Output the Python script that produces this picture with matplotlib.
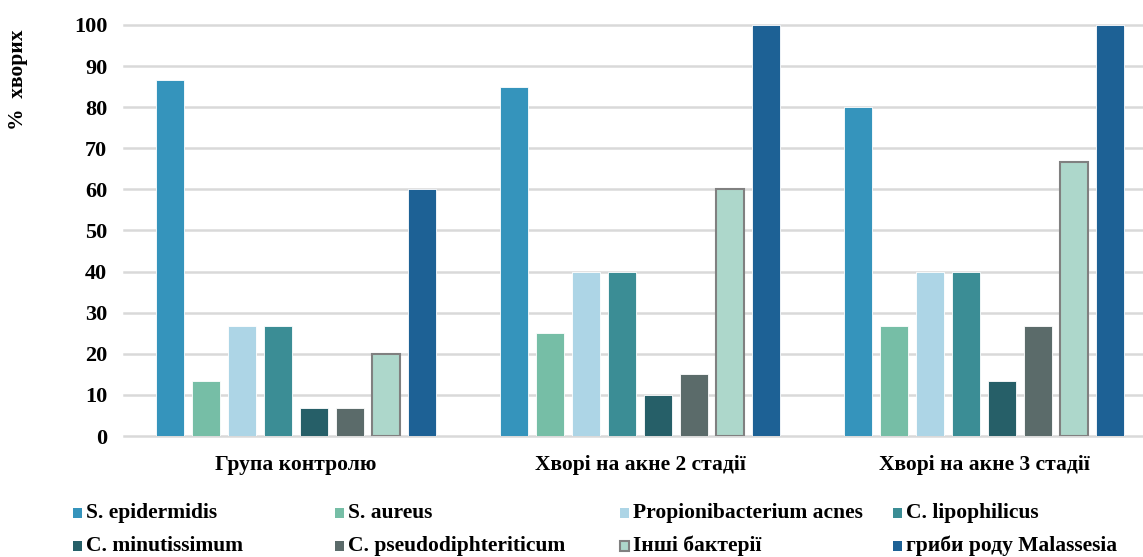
import numpy as np
import matplotlib
matplotlib.use('Agg')
from matplotlib import pyplot as plt
from matplotlib.patches import Rectangle

plt.rcParams['font.family'] = ['Liberation Serif', 'DejaVu Serif']
plt.rcParams['font.weight'] = 'bold'

# data
groups = ['Група контролю', 'Хворі на акне 2 стадії', 'Хворі на акне 3 стадії']
species = ['S. epidermidis', 'S. aureus', 'Propionibacterium acnes', 'C. lipophilicus',
           'C. minutissimum', 'C. pseudodiphteriticum', 'Інші бактерії', 'гриби роду Malassesia']
control = [86.7, 13.3, 26.7, 26.7, 6.7, 6.7, 20, 60]
stage2 = [85, 25, 40, 40, 10, 15, 60, 100]
stage3 = [80, 26.7, 40, 40, 13.3, 26.7, 66.7, 100]
colors = ['#3594BC', '#76BEA6', '#ADD5E6', '#3B8D95', '#265F68', '#5B6B6A', '#ADD7CB', '#1D6195']
edges = ['white'] * 6 + ['#808080', 'white']
yticks = np.arange(0, 101, 10)

W, H = 1143, 557
fig = plt.figure(figsize=(W / 100, H / 100), dpi=100)
ax = fig.add_axes([124 / W, (H - 436) / H, 1 - 124 / W, (436 - 25) / H])

vals = np.array([control, stage2, stage3])  # groups x species
x = np.arange(len(groups))
step = 36 / 344
bw = 28 / 344
for i in range(len(species)):
    off = (i - 3.5) * step
    lw = 1.5 if edges[i] != 'white' else 0.6
    ax.bar(x + off, vals[:, i], width=bw, color=colors[i], edgecolor=edges[i],
           linewidth=lw, zorder=3)

ax.set_xlim(-0.5, 2.5 - 13 / 344)
ax.set_ylim(0, 100)
ax.set_yticks(yticks)
ax.set_yticklabels([str(t) for t in yticks], fontsize=16, fontweight='bold')
ax.set_xticks([])
ax.tick_params(axis='y', length=0, pad=12)
ax.grid(axis='y', color='#D9D9D9', linewidth=1.8, zorder=0)
ax.set_axisbelow(True)
for s in ax.spines.values():
    s.set_visible(False)
for gl in ax.get_ygridlines():
    gl.set_clip_on(False)

for xi, g in zip(x, groups):
    ax.text(xi, -7, g, ha='center', va='center', fontsize=15.5, fontweight='bold')

fig.text(18 / W, 1 - 80 / H, '%  хворих', rotation=90, ha='center', va='center',
         fontsize=15.5, fontweight='bold')

# legend drawn by hand to match column placement
col_x = [73, 335, 620, 893]
row_y = [513, 546]
for i, name in enumerate(species):
    cx = col_x[i % 4]
    cy = row_y[i // 4]
    lw = 1.5 if edges[i] != 'white' else 0
    fig.patches.append(Rectangle((cx / W, 1 - (cy + 5) / H), 9 / W, 10 / H,
                                 transform=fig.transFigure, facecolor=colors[i],
                                 edgecolor=edges[i] if lw else 'none', linewidth=lw))
    fig.text((cx + 13) / W, 1 - cy / H, name, ha='left', va='center',
             fontsize=15.5, fontweight='bold')

fig.savefig('out.png', dpi=100)
